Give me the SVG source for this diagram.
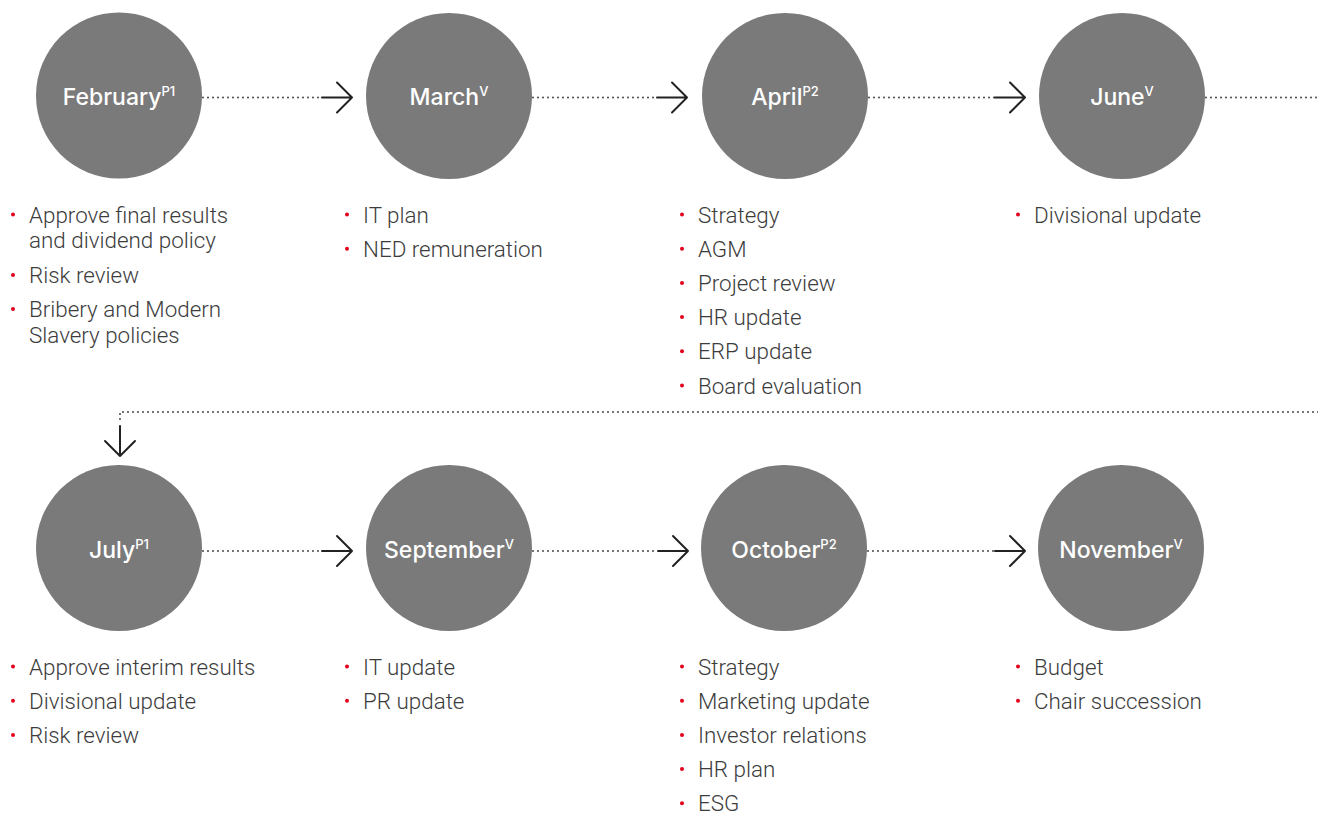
<svg xmlns="http://www.w3.org/2000/svg" width="1318" height="814" viewBox="0 0 1318 814">
<style>
.node circle.bg{fill:#7a7a7a}
.lbl{font-family:Inter,"Liberation Sans",sans-serif;font-weight:500;font-size:23px;fill:#fff;text-anchor:middle}
.sup{font-size:13px}
.item{font-family:Roboto,"Liberation Sans",sans-serif;font-weight:300;font-size:22.4px;fill:#3c3c3c}
.node circle.dot{fill:#e2001a}
.dotted{fill:none;stroke:#333;stroke-width:1.8;stroke-linecap:round;stroke-dasharray:0 5}
.solid{fill:none;stroke:#222;stroke-width:2;stroke-linecap:round;stroke-linejoin:round}
</style>
<rect width="1318" height="814" fill="#fff"/>
<g id="connectors">
  <path class="dotted" d="M203 97.5H322"/>
  <path class="solid" d="M322 97.5H352M337 82.5L352 97.5L337 112.5"/>
  <path class="dotted" d="M533 97.5H657"/>
  <path class="solid" d="M657 97.5H687M672 82.5L687 97.5L672 112.5"/>
  <path class="dotted" d="M869 97.5H995"/>
  <path class="solid" d="M995 97.5H1025M1010 82.5L1025 97.5L1010 112.5"/>
  <path class="dotted" d="M1206 97.5H1318"/>
  <path class="dotted" d="M1318 412H120V422"/>
  <path class="solid" d="M120 426V456M105 441L120 456L135 441"/>
  <path class="dotted" d="M203 551H322"/>
  <path class="solid" d="M322 551H352M337 536L352 551L337 566"/>
  <path class="dotted" d="M533 551H658"/>
  <path class="solid" d="M658 551H688M673 536L688 551L673 566"/>
  <path class="dotted" d="M868 551H995"/>
  <path class="solid" d="M995 551H1025M1010 536L1025 551L1010 566"/>
</g>
<g id="february" class="node">
  <circle class="bg" cx="119" cy="95.5" r="83"/>
  <text class="lbl" x="119" y="104.5">February<tspan class="sup" dy="-9">P1</tspan></text>
  <circle class="dot" cx="13" cy="214.5" r="2"/>
  <text class="item" x="29" y="222.5">Approve final results</text>
  <text class="item" x="29" y="248">and dividend policy</text>
  <circle class="dot" cx="13" cy="275" r="2"/>
  <text class="item" x="29" y="283">Risk review</text>
  <circle class="dot" cx="13" cy="309" r="2"/>
  <text class="item" x="29" y="317">Bribery and Modern</text>
  <text class="item" x="29" y="342.5">Slavery policies</text>
</g>
<g id="march" class="node">
  <circle class="bg" cx="449" cy="96" r="83"/>
  <text class="lbl" x="449" y="104.5">March<tspan class="sup" dy="-9">V</tspan></text>
  <circle class="dot" cx="347" cy="214.5" r="2"/>
  <text class="item" x="363" y="222.5">IT plan</text>
  <circle class="dot" cx="347" cy="248.7" r="2"/>
  <text class="item" x="363" y="256.7">NED remuneration</text>
</g>
<g id="april" class="node">
  <circle class="bg" cx="785" cy="96" r="83"/>
  <text class="lbl" x="785" y="104.5">April<tspan class="sup" dy="-9">P2</tspan></text>
  <circle class="dot" cx="682" cy="214.5" r="2"/>
  <text class="item" x="698" y="222.5">Strategy</text>
  <circle class="dot" cx="682" cy="248.7" r="2"/>
  <text class="item" x="698" y="256.7">AGM</text>
  <circle class="dot" cx="682" cy="282.9" r="2"/>
  <text class="item" x="698" y="290.9">Project review</text>
  <circle class="dot" cx="682" cy="317.1" r="2"/>
  <text class="item" x="698" y="325.1">HR update</text>
  <circle class="dot" cx="682" cy="351.3" r="2"/>
  <text class="item" x="698" y="359.3">ERP update</text>
  <circle class="dot" cx="682" cy="385.5" r="2"/>
  <text class="item" x="698" y="393.5">Board evaluation</text>
</g>
<g id="june" class="node">
  <circle class="bg" cx="1122" cy="96" r="83"/>
  <text class="lbl" x="1122" y="104.5">June<tspan class="sup" dy="-9">V</tspan></text>
  <circle class="dot" cx="1018" cy="214.5" r="2"/>
  <text class="item" x="1034" y="222.5">Divisional update</text>
</g>
<g id="july" class="node">
  <circle class="bg" cx="119" cy="548" r="83"/>
  <text class="lbl" x="119" y="558">July<tspan class="sup" dy="-9">P1</tspan></text>
  <circle class="dot" cx="13" cy="666.5" r="2"/>
  <text class="item" x="29" y="674.5">Approve interim results</text>
  <circle class="dot" cx="13" cy="700.7" r="2"/>
  <text class="item" x="29" y="708.7">Divisional update</text>
  <circle class="dot" cx="13" cy="734.9" r="2"/>
  <text class="item" x="29" y="742.9">Risk review</text>
</g>
<g id="september" class="node">
  <circle class="bg" cx="449" cy="548" r="83"/>
  <text class="lbl" x="449" y="558">September<tspan class="sup" dy="-9">V</tspan></text>
  <circle class="dot" cx="347" cy="666.5" r="2"/>
  <text class="item" x="363" y="674.5">IT update</text>
  <circle class="dot" cx="347" cy="700.7" r="2"/>
  <text class="item" x="363" y="708.7">PR update</text>
</g>
<g id="october" class="node">
  <circle class="bg" cx="784" cy="548" r="83"/>
  <text class="lbl" x="784" y="558">October<tspan class="sup" dy="-9">P2</tspan></text>
  <circle class="dot" cx="682" cy="666.5" r="2"/>
  <text class="item" x="698" y="674.5">Strategy</text>
  <circle class="dot" cx="682" cy="700.7" r="2"/>
  <text class="item" x="698" y="708.7">Marketing update</text>
  <circle class="dot" cx="682" cy="734.9" r="2"/>
  <text class="item" x="698" y="742.9">Investor relations</text>
  <circle class="dot" cx="682" cy="769.1" r="2"/>
  <text class="item" x="698" y="777.1">HR plan</text>
  <circle class="dot" cx="682" cy="803.3" r="2"/>
  <text class="item" x="698" y="811.3">ESG</text>
</g>
<g id="november" class="node">
  <circle class="bg" cx="1121" cy="548" r="83"/>
  <text class="lbl" x="1121" y="558">November<tspan class="sup" dy="-9">V</tspan></text>
  <circle class="dot" cx="1018" cy="666.5" r="2"/>
  <text class="item" x="1034" y="674.5">Budget</text>
  <circle class="dot" cx="1018" cy="700.7" r="2"/>
  <text class="item" x="1034" y="708.7">Chair succession</text>
</g>
</svg>
